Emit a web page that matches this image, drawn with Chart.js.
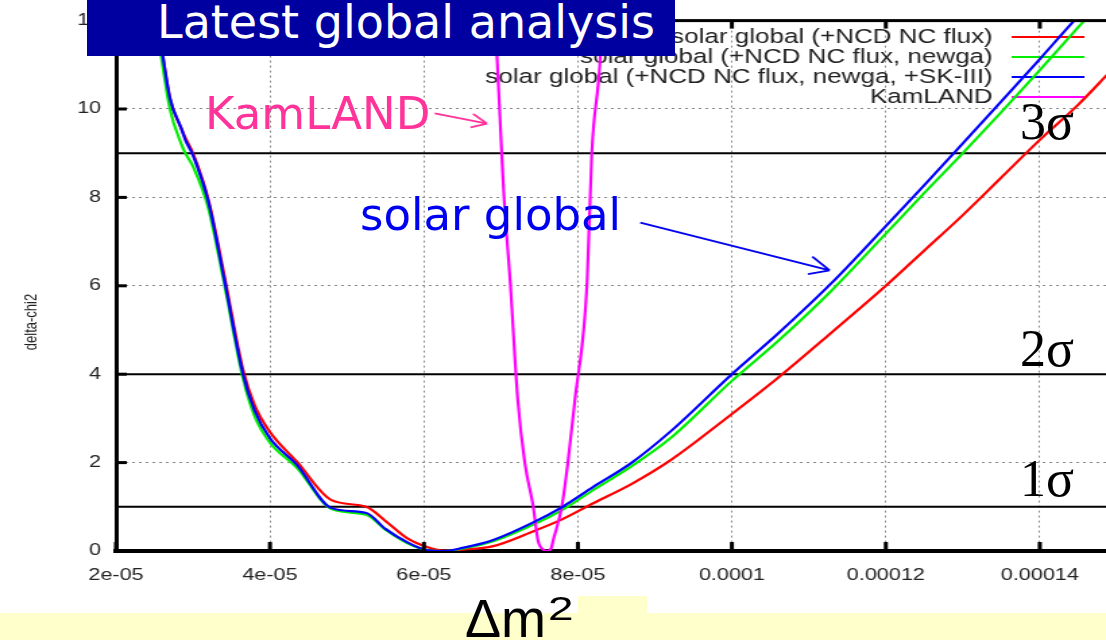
<!DOCTYPE html>
<html>
<head>
<meta charset="utf-8">
<script src="https://cdn.jsdelivr.net/npm/chart.js@4.4.0/dist/chart.umd.min.js"></script>
<style>
  html, body { margin: 0; padding: 0; background: #fff; }
  #wrap { position: relative; width: 1106px; height: 640px; overflow: hidden; }
  #plot { position: absolute; left: 0; top: 0; }
  .note { position: absolute; white-space: nowrap; line-height: 1; }
  .big { font-family: "DejaVu Sans", sans-serif; font-size: 46px; }
  .sig { font-family: "Liberation Serif", serif; font-size: 52px; color: #000; left: 1020px; }
  .yel { position: absolute; background: #ffffcc; }
</style>
</head>
<body>
<div id="wrap">
  <canvas id="plot" width="820" height="640" style="width:1106px;height:640px"></canvas>

  <div style="position:absolute;left:87px;top:0;width:588px;height:56px;background:#0000a0"></div>
  <div class="note big" style="left:157px;top:-1px;color:#fff">Latest global analysis</div>
  <div class="note big" style="left:205px;top:91px;color:#ff3399;font-size:45px">KamLAND</div>
  <div class="note big" style="left:360px;top:192px;color:#0000f0;font-size:45px">solar global</div>

  <div class="note sig" style="top:96px">3σ</div>
  <div class="note sig" style="top:323px">2σ</div>
  <div class="note sig" style="top:453px">1σ</div>

  <div class="yel" style="left:0;top:613px;width:1106px;height:27px"></div>
  <div class="yel" style="left:578px;top:596px;width:69px;height:17px"></div>
  <div class="note" style="left:465px;top:591px;font-family:'Liberation Sans',sans-serif;font-size:54px;color:#000">Δm</div>
  <div class="note" style="left:548px;top:591px;font-family:'Liberation Sans',sans-serif;font-size:34px;color:#000;transform:scaleX(1.35);transform-origin:left top">2</div>
</div>

<script>
// delta m^2 grid shared by the three solar global fits
const xSolar = [2.50e-5, 2.55e-5, 2.70e-5, 2.85e-5, 2.90e-5, 3.00e-5, 3.20e-5, 3.40e-5, 3.65e-5, 3.80e-5,
                4.00e-5, 4.35e-5, 4.80e-5, 5.25e-5, 5.50e-5, 5.78e-5, 6.04e-5, 6.25e-5, 6.50e-5, 6.90e-5,
                7.40e-5, 7.80e-5, 8.20e-5, 8.70e-5, 9.20e-5, 1.00e-4, 1.06e-4, 1.13e-4, 1.20e-4, 1.25e-4,
                1.30e-4, 1.35e-4, 1.40e-4, 1.45e-4, 1.49e-4];

const chiNcd = [12.3, 11.85, 10.25, 9.55, 9.35, 9.0, 7.95, 6.3, 4.1, 3.3,
                2.69, 2.02, 1.15, 1.0, 0.68, 0.29, 0.09, 0.01, 0.03, 0.11,
                0.43, 0.72, 1.08, 1.52, 2.05, 3.1, 3.92, 4.95, 6.0, 6.8,
                7.6, 8.45, 9.3, 10.1, 10.82];

const chiNewga = [12.1, 11.6, 10.0, 9.2, 9.0, 8.7, 7.75, 6.1, 3.9, 3.05,
                  2.45, 1.88, 0.95, 0.82, 0.48, 0.18, 0.02, 0.0, 0.05, 0.22,
                  0.58, 0.93, 1.38, 1.92, 2.55, 3.85, 4.75, 5.9, 7.18, 8.1,
                  9.0, 9.93, 10.88, 11.85, 12.6];

const chiSK3 = [12.3, 11.85, 10.25, 9.55, 9.3, 8.95, 7.9, 6.2, 4.0, 3.18,
                2.55, 1.95, 0.97, 0.86, 0.5, 0.2, 0.02, 0.0, 0.07, 0.25,
                0.63, 1.0, 1.45, 2.0, 2.7, 4.0, 4.92, 6.07, 7.35, 8.28,
                9.22, 10.17, 11.13, 12.1, 12.8];

const xKam = [6.90e-5, 6.95e-5, 7.01e-5, 7.04e-5, 7.12e-5, 7.22e-5, 7.31e-5, 7.42e-5, 7.48e-5, 7.55e-5,
              7.60e-5, 7.65e-5, 7.68e-5, 7.79e-5, 7.87e-5, 7.96e-5, 8.12e-5, 8.18e-5, 8.29e-5, 8.32e-5];
const chiKam = [12.4, 11.15, 9.0, 8.0, 6.1, 3.4, 2.0, 1.0, 0.25, 0.03,
                0.0, 0.05, 0.25, 1.0, 2.0, 3.4, 6.1, 9.0, 11.15, 12.4];

const seriesLabels = ['solar global (+NCD NC flux)', 'solar global (+NCD NC flux, newga)',
                      'solar global (+NCD NC flux, newga, +SK-III)', 'KamLAND'];
const seriesColors = ['#ff0000', '#00ee00', '#0000ff', '#ff00ff'];

const xMin = 2e-5, xMax = 1.486e-4, yMin = 0, yMax = 12;
const xTicks = [2e-5, 4e-5, 6e-5, 8e-5, 1e-4, 1.2e-4, 1.4e-4];
const xTickLabels = ['2e-05', '4e-05', '6e-05', '8e-05', '0.0001', '0.00012', '0.00014'];
const yTicks = [0, 2, 4, 6, 8, 10, 12];
const sigmaLevels = [1, 4, 9];

// annotation arrows, ends given in data units
const arrows = [
  { from: [6.14e-5, 9.9], to: [6.82e-5, 9.67], color: '#ff3399', head: 17 },
  { from: [8.81e-5, 7.43], to: [1.127e-4, 6.35], color: '#0000f0', head: 22 }
];

const K = 1106 / 820; // the picture is stretched sideways

const pts = (xs, ys) => xs.map((x, i) => ({ x: x, y: ys[i] }));

function drawArrow(ctx, x0, y0, x1, y1, len, color) {
  const ang = Math.atan2(y1 - y0, (x1 - x0) * K);
  ctx.strokeStyle = color;
  ctx.lineWidth = 1.8;
  ctx.beginPath();
  ctx.moveTo(x0, y0);
  ctx.lineTo(x1, y1);
  for (const s of [-1, 1]) {
    const a2 = ang + Math.PI + s * 0.42;
    ctx.moveTo(x1, y1);
    ctx.lineTo(x1 + Math.cos(a2) * len / K, y1 + Math.sin(a2) * len);
  }
  ctx.stroke();
}

const decor = {
  id: 'decor',
  beforeDatasetsDraw(chart) {
    const ctx = chart.ctx, x = chart.scales.x, y = chart.scales.y;
    const L = x.getPixelForValue(xMin), R = x.getPixelForValue(xMax);
    ctx.save();
    ctx.setLineDash([]);
    ctx.strokeStyle = '#000';
    ctx.lineWidth = 2;
    sigmaLevels.forEach(v => {
      const py = y.getPixelForValue(v);
      ctx.beginPath();
      ctx.moveTo(L, py);
      ctx.lineTo(R, py);
      ctx.stroke();
    });
    // key
    ctx.font = '19.3px "Liberation Sans", Arial, sans-serif';
    ctx.textAlign = 'right';
    ctx.textBaseline = 'middle';
    seriesLabels.forEach((t, i) => {
      const py = 37 + i * 20;
      ctx.fillStyle = '#222';
      ctx.fillText(t, 736, py + 1);
      ctx.strokeStyle = seriesColors[i];
      ctx.lineWidth = 2;
      ctx.beginPath();
      ctx.moveTo(750, py);
      ctx.lineTo(804, py);
      ctx.stroke();
    });
    ctx.restore();
  },
  afterDraw(chart) {
    const ctx = chart.ctx, x = chart.scales.x, y = chart.scales.y;
    const L = x.getPixelForValue(xMin), R = x.getPixelForValue(xMax);
    const T = y.getPixelForValue(yMax), B = y.getPixelForValue(yMin);
    ctx.save();
    // top edge of the frame and inward ticks
    ctx.fillStyle = '#000';
    ctx.fillRect(L - 1.5, T - 1.5, R - L + 2, 3);
    xTicks.forEach(v => {
      const px = x.getPixelForValue(v);
      ctx.fillRect(px - 1.5, B - 9, 3, 9);
      ctx.fillRect(px - 1.5, T, 3, 8);
    });
    yTicks.forEach(v => ctx.fillRect(L, y.getPixelForValue(v) - 1.5, 8, 3));

    arrows.forEach(ar => {
      drawArrow(ctx, x.getPixelForValue(ar.from[0]), y.getPixelForValue(ar.from[1]),
                x.getPixelForValue(ar.to[0]), y.getPixelForValue(ar.to[1]), ar.head, ar.color);
    });
    ctx.translate(23, 322);
    ctx.rotate(-Math.PI / 2);
    ctx.font = '13px "Liberation Sans", Arial, sans-serif';
    ctx.fillStyle = '#222';
    ctx.textAlign = 'center';
    ctx.textBaseline = 'middle';
    ctx.fillText('delta-chi2', 0, 0);
    ctx.restore();
  }
};

const tickFont = { family: '"Liberation Sans", Arial, sans-serif', size: 16 };

new Chart(document.getElementById('plot'), {
  type: 'line',
  data: {
    datasets: [
      { label: seriesLabels[0], data: pts(xSolar, chiNcd), borderColor: seriesColors[0], order: 3 },
      { label: seriesLabels[1], data: pts(xSolar, chiNewga), borderColor: seriesColors[1], order: 2 },
      { label: seriesLabels[2], data: pts(xSolar, chiSK3), borderColor: seriesColors[2], order: 0 },
      { label: seriesLabels[3], data: pts(xKam, chiKam), borderColor: seriesColors[3], order: 1 }
    ]
  },
  options: {
    responsive: false,
    animation: false,
    events: [],
    layout: { padding: { top: 20, right: 0, left: 0, bottom: 0 } },
    elements: {
      point: { radius: 0 },
      line: { borderWidth: 2.2, cubicInterpolationMode: 'monotone', fill: false }
    },
    plugins: { legend: { display: false }, tooltip: { enabled: false } },
    scales: {
      x: {
        type: 'linear',
        min: xMin,
        max: xMax,
        afterFit: s => { s.height = 89; },
        afterBuildTicks: s => { s.ticks = xTicks.map(v => ({ value: v })); },
        ticks: {
          callback: (v, i) => xTickLabels[i],
          font: tickFont, color: '#222', padding: 15, maxRotation: 0, autoSkip: false
        },
        grid: { color: '#888', lineWidth: 1, drawTicks: false },
        border: { display: true, width: 4, color: '#000', dash: [2, 3] }
      },
      y: {
        min: yMin,
        max: yMax,
        afterFit: s => { s.width = 86; },
        afterBuildTicks: s => { s.ticks = yTicks.map(v => ({ value: v })); },
        ticks: { font: tickFont, color: '#222', padding: 11 },
        grid: { color: '#888', lineWidth: 1, drawTicks: false },
        border: { display: true, width: 3, color: '#000', dash: [2, 3] }
      }
    }
  },
  plugins: [decor]
});
</script>
</body>
</html>
